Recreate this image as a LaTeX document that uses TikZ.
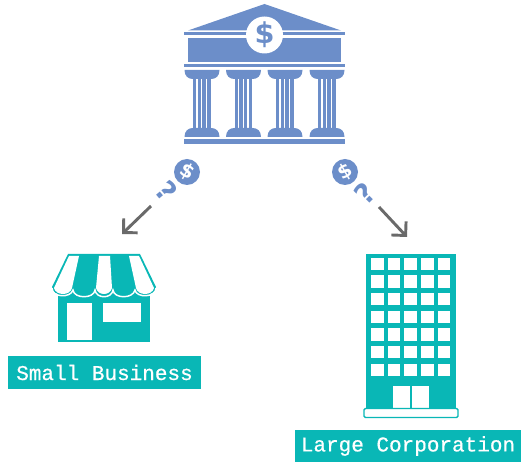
\documentclass[tikz,border=0pt]{standalone}
\usepackage{fontspec}
\usetikzlibrary{arrows.meta}
\setmainfont{DejaVu Sans}
\newfontfamily\labelfont[FakeBold=0.6]{Liberation Mono}
\definecolor{bankblue}{HTML}{6C8EC9}
\definecolor{shopteal}{HTML}{09B7B6}
\definecolor{arrowgrey}{HTML}{6A6A6A}
\tikzset{
	bankpart/.style={fill=bankblue,draw=none},
	tealpart/.style={fill=shopteal,draw=none},
	holepart/.style={fill=white,draw=none},
	coin/.style={circle,fill=bankblue,minimum size=19.5pt,inner sep=0pt},
	coinsign/.style={text=white,inner sep=0pt,font=\bfseries\fontsize{14.5}{15}\selectfont},
	ask/.style={text=bankblue,inner sep=0pt,font=\bfseries\fontsize{21}{21}\selectfont},
	tag/.style={fill=shopteal,text=white,inner sep=0pt,minimum height=24.5pt,font=\labelfont\fontsize{15.75}{18}\selectfont},
	pointer/.style={line width=2.2pt,draw=arrowgrey,-{Straight Barb[length=7.5pt,width=15pt]}}
}
\begin{document}
\begin{tikzpicture}[x=0.75pt,y=-0.75pt]
	\useasboundingbox (0,0) rectangle (522,463);
	% bank
	\fill[bankpart] (264.5,4) -- (341,30.5) -- (188,30.5) -- cycle;
	\fill[bankpart] (184,32) rectangle (345,35.5);
	\fill[bankpart] (188,38) rectangle (341,62);
	\fill[bankpart] (184,64) rectangle (345,67);
	\fill[bankpart] (184,139) rectangle (345,144);
	\foreach \c in {202,243.5,285,327} {
		\fill[bankpart] ({\c-17.5},70) -- ({\c+17.5},70) .. controls ({\c+17.5},76) and ({\c+14},79) .. ({\c+9},79) -- ({\c-9},79) .. controls ({\c-14},79) and ({\c-17.5},76) .. ({\c-17.5},70) -- cycle;
		\fill[bankpart] ({\c-17.5},137) -- ({\c+17.5},137) .. controls ({\c+17.5},131) and ({\c+14},128) .. ({\c+9},128) -- ({\c-9},128) .. controls ({\c-14},128) and ({\c-17.5},131) .. ({\c-17.5},137) -- cycle;
		\foreach \s in {-9,-4.3,0.4,5.1} {
			\fill[bankpart] ({\c+\s},79) rectangle ({\c+\s+3.4},128);
		}
	}
	\node[circle,fill=white,minimum size=27.75pt,inner sep=0pt,text=bankblue,font=\bfseries\fontsize{21.5}{22}\selectfont] (Bank) at (264.5,35) {\$};
	% coins and question marks
	\node[coin] (CoinL) at (187,172) {};
	\node[coin] (CoinR) at (345,172) {};
	\node[coinsign,rotate=-30] (SignL) at (CoinL) {\$};
	\node[coinsign,rotate=30] (SignR) at (CoinR) {\$};
	\node[ask,rotate=-50] (AskL) at (167,191) {?};
	\node[ask,rotate=45] (AskR) at (365,193) {?};
	% arrows
	\coordinate (L0) at (151,206);
	\coordinate (L1) at (122,234);
	\coordinate (R0) at (379,207);
	\coordinate (R1) at (407,237);
	\draw (L0) edge[pointer] (L1);
	\draw (R0) edge[pointer] (R1);
	% shop
	\fill[tealpart] (58,292) rectangle (150,342);
	\fill[holepart] (67,303) rectangle (92,340);
	\fill[holepart] (103,303) rectangle (141,322);
	\fill[tealpart] (68,254) -- (140,254) -- (156,287) .. controls (156,297) and (136,297) .. (135,289) .. controls (133,298) and (114,298) .. (113,289) .. controls (112,298) and (96,298) .. (95,289) .. controls (94,298) and (74,298) .. (73,289) .. controls (71,297) and (52,297) .. (52,287) -- cycle;
	\draw[white,line width=1.1pt] (156,288) .. controls (156,298) and (136,298) .. (135,290) .. controls (133,299) and (114,299) .. (113,290) .. controls (112,299) and (96,299) .. (95,290) .. controls (94,299) and (74,299) .. (73,290) .. controls (71,298) and (52,298) .. (52,288);
	\foreach \tl/\tr/\bl/\br in {69/79/54/72,99/110/96/112,129/139/136/154} {
		\fill[holepart] (\tl,256) -- (\tr,256) -- (\br,288) .. controls ({\br-2},296) and ({\bl+2},296) .. (\bl,288) -- cycle;
	}
	\node[tag,minimum width=144.75pt] (Small) at (104.5,372.5) {Small Business};
	% building
	\fill[tealpart] (366,254) rectangle (456,409);
	\foreach \i in {0,...,4} {
		\foreach \j in {0,...,6} {
			\fill[holepart] ({371+16.7*\i},{257.7+17.7*\j}) rectangle ++(12.5,12.3);
		}
	}
	\fill[holepart] (393,386) rectangle (410,410);
	\fill[holepart] (412,386) rectangle (429,410);
	\draw[draw=shopteal,fill=white,line width=1.1pt,rounded corners=1pt] (364,408.5) rectangle (458,417.5);
	\node[tag,minimum width=169.5pt] (Large) at (408,446) {Large Corporation};
\end{tikzpicture}
\end{document}
